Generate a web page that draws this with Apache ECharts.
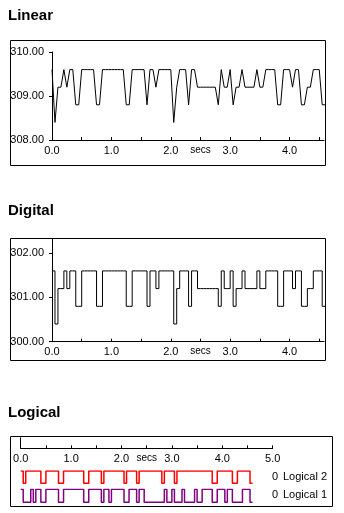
<!DOCTYPE html>
<html>
<head>
<meta charset="utf-8">
<script src="https://cdn.jsdelivr.net/npm/echarts@6.0.0/dist/echarts.min.js"></script>
<style>
  html, body { margin: 0; padding: 0; background: #fff; }
  #chart { width: 344px; height: 513px; }
</style>
</head>
<body>
<div id="chart"></div>
<script>
// samples are taken every 0.05 secs
const sampleStep = 0.05;

const linearValues = [
  309.6, 308.4, 309.2, 309.2, 309.6, 309.2, 309.6, 309.6, 308.8, 308.8,
  309.6, 309.6, 309.6, 309.6, 309.6, 308.8, 308.8, 309.6, 309.6, 309.6,
  309.6, 309.6, 309.6, 309.6, 309.6, 308.8, 308.8, 309.6, 309.6, 309.6,
  309.6, 309.6, 308.8, 309.6, 309.6, 309.2, 309.6, 309.6, 309.6, 309.6,
  309.6, 308.4, 309.2, 309.6, 309.6, 309.6, 308.8, 309.6, 309.6, 309.2,
  309.2, 309.2, 309.2, 309.2, 309.2, 309.2, 308.8, 309.6, 309.2, 309.2,
  309.6, 308.8, 309.2, 309.2, 309.6, 309.2, 309.2, 309.2, 309.2, 309.6,
  309.2, 309.2, 309.6, 309.6, 309.6, 309.6, 308.8, 308.8, 309.6, 309.6,
  309.6, 309.2, 309.6, 309.6, 308.8, 308.8, 309.2, 309.2, 309.6, 309.6,
  309.6, 308.8, 308.8,
];

const digitalValues = [
  301.6, 300.4, 301.2, 301.2, 301.6, 301.2, 301.6, 301.6, 300.8, 300.8,
  301.6, 301.6, 301.6, 301.6, 301.6, 300.8, 300.8, 301.6, 301.6, 301.6,
  301.6, 301.6, 301.6, 301.6, 301.6, 300.8, 300.8, 301.6, 301.6, 301.6,
  301.6, 301.6, 300.8, 301.6, 301.6, 301.2, 301.6, 301.6, 301.6, 301.6,
  301.6, 300.4, 301.2, 301.6, 301.6, 301.6, 300.8, 301.6, 301.6, 301.2,
  301.2, 301.2, 301.2, 301.2, 301.2, 301.2, 300.8, 301.6, 301.2, 301.2,
  301.6, 300.8, 301.2, 301.2, 301.6, 301.2, 301.2, 301.2, 301.2, 301.6,
  301.2, 301.2, 301.6, 301.6, 301.6, 301.6, 300.8, 300.8, 301.6, 301.6,
  301.6, 301.2, 301.6, 301.6, 300.8, 300.8, 301.2, 301.2, 301.6, 301.6,
  301.6, 300.8, 300.8,
];

const logical2 = [
  1, 0, 1, 1, 1, 1, 1, 1, 0, 0,
  1, 1, 1, 1, 1, 0, 0, 1, 1, 1,
  1, 1, 1, 1, 1, 0, 0, 1, 1, 1,
  1, 1, 0, 1, 1, 1, 1, 1, 1, 1,
  1, 0, 1, 1, 1, 1, 0, 1, 1, 1,
  1, 1, 1, 1, 1, 1, 0, 1, 1, 1,
  1, 0, 1, 1, 1, 1, 1, 1, 1, 1,
  1, 1, 1, 1, 1, 1, 0, 0, 1, 1,
  1, 1, 1, 1, 0, 0, 1, 1, 1, 1,
  1, 0, 0,
];

const logical1 = [
  1, 0, 0, 0, 1, 0, 1, 1, 0, 0,
  1, 1, 1, 1, 1, 0, 0, 1, 1, 1,
  1, 1, 1, 1, 1, 0, 0, 1, 1, 1,
  1, 1, 0, 1, 1, 0, 1, 1, 1, 1,
  1, 0, 0, 1, 1, 1, 0, 1, 1, 0,
  0, 0, 0, 0, 0, 0, 0, 1, 0, 0,
  1, 0, 0, 0, 1, 0, 0, 0, 0, 1,
  0, 0, 1, 1, 1, 1, 0, 0, 1, 1,
  1, 0, 1, 1, 0, 0, 0, 0, 1, 1,
  1, 0, 0,
];

const secTicks = [0, 0.5, 1, 1.5, 2, 2.5, 3, 3.5, 4, 4.5];
const secLabels = [0, 1, 2, 2.5, 3, 4];
const logicTicks = [0, 0.5, 1, 1.5, 2, 2.5, 3, 3.5, 4, 4.5, 5];
const logicLabels = [0, 1, 2, 2.5, 3, 4, 5];
const linearTicks = [308, 309, 310];
const digitalTicks = [300, 301, 302];

const FONT = "Liberation Sans, Arial, sans-serif";

function toPairs(values) {
  return values.map((v, i) => [i * sampleStep, v]);
}

function secsLabel(v) {
  if (Math.abs(v - 2.5) < 1e-6) return "{s|secs}";
  return v.toFixed(1);
}

function timeAxis(gridIndex, max, ticks, labels) {
  return {
    gridIndex,
    type: "value",
    min: 0,
    max,
    axisLine: { lineStyle: { color: "#000", width: 1 } },
    axisTick: {
      inside: true,
      length: 3,
      customValues: ticks,
      lineStyle: { color: "#000" },
    },
    axisLabel: {
      customValues: labels,
      formatter: secsLabel,
      color: "#000",
      fontFamily: FONT,
      fontSize: 11,
      margin: 5,
      rich: { s: { fontSize: 10, fontFamily: FONT, color: "#000" } },
    },
    splitLine: { show: false },
  };
}

function valueAxis(gridIndex, min, max, ticks) {
  return {
    gridIndex,
    type: "value",
    min,
    max,
    axisLine: { show: true, lineStyle: { color: "#000", width: 1 } },
    axisTick: {
      show: true,
      length: 3,
      customValues: ticks,
      lineStyle: { color: "#000" },
    },
    axisLabel: {
      customValues: ticks,
      formatter: (v) => v.toFixed(2),
      color: "#000",
      fontFamily: FONT,
      fontSize: 11,
      margin: 8,
    },
    splitLine: { show: false },
  };
}

function hiddenAxis(gridIndex, min, max) {
  return { gridIndex, type: "value", min, max, show: false };
}

function box(x, y, w, h) {
  return {
    type: "rect",
    shape: { x, y, width: w, height: h },
    style: { fill: "none", stroke: "#000", lineWidth: 1 },
    silent: true,
  };
}

function label(text, x, y) {
  return {
    type: "text",
    x,
    y,
    style: {
      text,
      fill: "#000",
      font: "11px " + FONT,
      textVerticalAlign: "middle",
    },
    silent: true,
  };
}

const titleStyle = {
  color: "#000",
  fontFamily: FONT,
  fontSize: 15,
  fontWeight: "bold",
};

let chart = echarts.init(document.getElementById("chart"));

let option = {
  animation: false,
  backgroundColor: "#fff",
  title: [
    { text: "Linear", left: 8, top: 8, padding: 0, textStyle: titleStyle },
    { text: "Digital", left: 8, top: 203, padding: 0, textStyle: titleStyle },
    { text: "Logical", left: 8, top: 405, padding: 0, textStyle: titleStyle },
  ],
  grid: [
    { left: 52, top: 52, width: 272, height: 88 },
    { left: 52, top: 239.5, width: 272, height: 102.2 },
    { left: 20.7, top: 437.7, width: 252, height: 10.6 },
    { left: 20.7, top: 471, width: 252, height: 12.3 },
    { left: 20.7, top: 489.3, width: 252, height: 13 },
  ],
  xAxis: [
    timeAxis(0, 4.58, secTicks, secLabels),
    timeAxis(1, 4.58, secTicks, secLabels),
    timeAxis(2, 5, logicTicks, logicLabels),
    hiddenAxis(3, 0, 5),
    hiddenAxis(4, 0, 5),
  ],
  yAxis: [
    valueAxis(0, 308, 310, linearTicks),
    valueAxis(1, 300, 302.31, digitalTicks),
    {
      gridIndex: 2,
      type: "value",
      min: 0,
      max: 1,
      axisLine: { show: true, lineStyle: { color: "#000", width: 1 } },
      axisTick: { show: false },
      axisLabel: { show: false },
      splitLine: { show: false },
    },
    hiddenAxis(3, 0, 1),
    hiddenAxis(4, 0, 1),
  ],
  series: [
    {
      name: "Linear",
      type: "line",
      xAxisIndex: 0,
      yAxisIndex: 0,
      symbol: "none",
      lineStyle: { color: "#000", width: 1 },
      data: toPairs(linearValues),
    },
    {
      name: "Digital",
      type: "line",
      step: "end",
      xAxisIndex: 1,
      yAxisIndex: 1,
      symbol: "none",
      lineStyle: { color: "#000", width: 1 },
      data: toPairs(digitalValues),
    },
    {
      name: "Logical 2",
      type: "line",
      step: "end",
      xAxisIndex: 3,
      yAxisIndex: 3,
      symbol: "none",
      lineStyle: { color: "#ff0000", width: 1.5 },
      data: toPairs(logical2),
    },
    {
      name: "Logical 1",
      type: "line",
      step: "end",
      xAxisIndex: 4,
      yAxisIndex: 4,
      symbol: "none",
      lineStyle: { color: "#800080", width: 1.5 },
      data: toPairs(logical1),
    },
  ],
  graphic: [
    box(10.5, 40.5, 315, 125),
    box(10.5, 238.5, 315, 122),
    box(10.5, 436.5, 322, 70),
    label("0", 272, 477),
    label("Logical 2", 283, 477),
    label("0", 272, 495),
    label("Logical 1", 283, 495),
  ],
};

chart.setOption(option);
</script>
</body>
</html>
